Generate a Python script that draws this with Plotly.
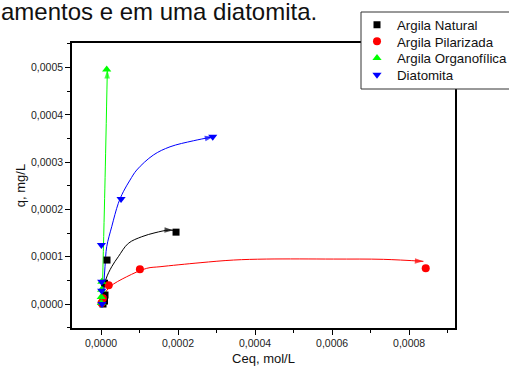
import plotly.graph_objects as go

# ---- data ----
nat_x = [0.0000052, 0.0000091, 0.0000104, 0.0000091, 0.0000156, 0.0001948]
nat_y = [0.0000000, 0.0000063, 0.0000190, 0.0000440, 0.0000930, 0.0001520]
pil_x = [0.0000013, 0.0000050, 0.0000200, 0.0001010, 0.0008430]
pil_y = [0.0000021, 0.0000120, 0.0000395, 0.0000733, 0.0000755]
org_x = [0.0000010, 0.0000005, 0.0000015, 0.0000020, 0.0000148]
org_y = [0.0000020, 0.0000150, 0.0000300, 0.0000470, 0.0004960]
dia_x = [0.0000026, 0.0000018, 0.0000018, 0.0000010, 0.0000520, 0.0002900]
dia_y = [0.0000000, 0.0000280, 0.0000470, 0.0001247, 0.0002220, 0.0003540]

# fitted curves
nat_fx = [0.0000030, 0.0000065, 0.0000130, 0.0000278, 0.0000449, 0.0000709, 0.0001057, 0.0001402, 0.0001748, 0.0001870]
nat_fy = [0.0000000, 0.0000254, 0.0000529, 0.0000789, 0.0001000, 0.0001283, 0.0001423, 0.0001507, 0.0001564, 0.0001560]
pil_fx = [0.0000013, 0.0000078, 0.0000234, 0.0000667, 0.0001187, 0.0001532, 0.0002571, 0.0003436, 0.0004303, 0.0006033, 0.0007331, 0.0008370]
pil_fy = [0.0000021, 0.0000190, 0.0000366, 0.0000577, 0.0000755, 0.0000789, 0.0000873, 0.0000930, 0.0000951, 0.0000951, 0.0000945, 0.0000903]
org_fx = [0.0000026, 0.0000100, 0.0000164]
org_fy = [0.0000000, 0.0002450, 0.0004950]
dia_fx = [0.0000040, 0.0000104, 0.0000148, 0.0000278, 0.0000449, 0.0000579, 0.0000753, 0.0000927, 0.0001358, 0.0001792, 0.0002397, 0.0002916]
dia_fy = [0.0000000, 0.0000789, 0.0001211, 0.0001634, 0.0002129, 0.0002374, 0.0002621, 0.0002833, 0.0003150, 0.0003325, 0.0003452, 0.0003537]

names = ["Argila Natural", "Argila Pilarizada", "Argila Organofílica", "Diatomita"]
colors = ["#000000", "#ff0000", "#00ff00", "#0000ff"]
symbols = ["square", "circle", "triangle-up", "triangle-down"]
sizes = [7, 8, 8, 8]

pts = [(nat_x, nat_y), (pil_x, pil_y), (org_x, org_y), (dia_x, dia_y)]
fits = [(nat_fx, nat_fy), (pil_fx, pil_fy), (org_fx, org_fy), (dia_fx, dia_fy)]

W, H = 509, 368
L, R, T, B = 72, 54, 43, 40
pw, ph = W - L - R, H - T - B

def px_x(p):
    return (p - L) / pw

def px_y(p):
    return 1 - (p - T) / ph

legend_ids = ["legend", "legend2", "legend3", "legend4"]
legend_rows = [25, 41.7, 58.3, 75]

fig = go.Figure()
for (fx, fy), c in zip(fits, colors):
    n = len(fx)
    fig.add_trace(go.Scatter(
        x=fx, y=fy, mode="lines+markers", showlegend=False, hoverinfo="skip",
        line=dict(color=c, width=1, shape="spline", smoothing=1),
        marker=dict(symbol="arrow", angleref="previous", color=c,
                    size=[0] * (n - 1) + [9], line=dict(width=0)),
    ))
for (x, y), nm, c, s, sz, lg in zip(pts, names, colors, symbols, sizes, legend_ids):
    fig.add_trace(go.Scatter(
        x=x, y=y, mode="markers", name=nm, legend=lg,
        marker=dict(symbol=s, color=c, size=sz, line=dict(width=0)),
    ))

fig.add_shape(type="rect", xref="paper", yref="paper",
              x0=px_x(361), x1=px_x(520), y0=px_y(89), y1=px_y(12),
              line=dict(color="#333333", width=1), fillcolor="white", layer="above")

fig.add_annotation(text="amentos e em uma diatomita.", xref="paper", yref="paper",
                   x=px_x(-1), y=px_y(11.5), xanchor="left", yanchor="middle",
                   showarrow=False, font=dict(size=24, color="#111111"))

axis_common = dict(showline=True, linecolor="black", linewidth=1.5, mirror=True,
                   ticks="outside", ticklen=5, tickwidth=1, tickcolor="black",
                   showgrid=False, zeroline=False, tickformat=".4f",
                   tickfont=dict(size=10.5, color="#222222"))

legends = {}
for lg, row in zip(legend_ids, legend_rows):
    legends[lg] = dict(x=px_x(357), y=px_y(row), xanchor="left", yanchor="middle",
                       bgcolor="rgba(0,0,0,0)", borderwidth=0,
                       font=dict(size=13.3, color="#111111"), itemclick=False)

fig.update_layout(
    width=W, height=H,
    margin=dict(l=L, r=R, t=T, b=B, autoexpand=False),
    paper_bgcolor="white", plot_bgcolor="white",
    separators=",.",
    font=dict(family="Liberation Sans, Arial, sans-serif", color="#111111"),
    xaxis=dict(axis_common, range=[-0.0000753, 0.000919], dtick=0.0002, tick0=0,
               minor=dict(ticks="outside", ticklen=3, tickcolor="black", dtick=0.0001),
               title=dict(text="Ceq, mol/L", font=dict(size=13), standoff=6)),
    yaxis=dict(axis_common, range=[-0.0000507, 0.000552], dtick=0.0001, tick0=0,
               minor=dict(ticks="outside", ticklen=3, tickcolor="black", dtick=0.00005),
               title=dict(text="q, mg/L", font=dict(size=13), standoff=2)),
    showlegend=True,
    **legends,
)

fig.write_html("out.html", config={"displayModeBar": False},
               post_script="document.body.style.margin='0';document.body.style.overflow='hidden';")
